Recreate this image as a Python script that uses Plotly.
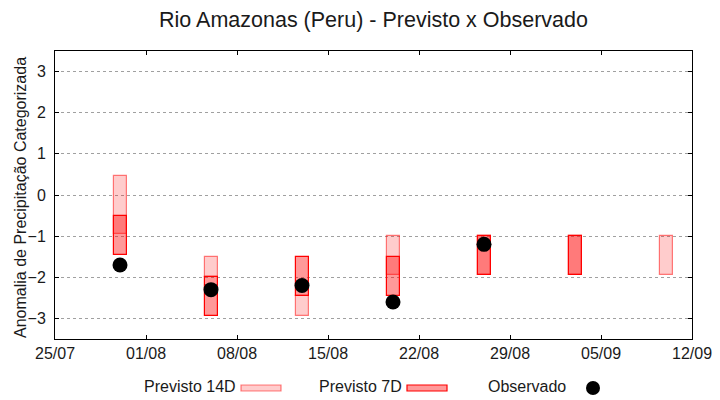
import plotly.graph_objects as go
import pandas as pd

# ---- data ----
dates = ["2023-07-30", "2023-08-06", "2023-08-13", "2023-08-20",
         "2023-08-27", "2023-09-03", "2023-09-10"]
p14_low = [-0.95, -2.0, -2.95, -1.95, -1.95, -1.95, -1.95]
p14_high = [0.45, -1.5, -2.45, -1.0, -1.0, -1.0, -1.0]
p7_dates = ["2023-07-30", "2023-08-06", "2023-08-13", "2023-08-20",
            "2023-08-27", "2023-09-03"]
p7_low = [-1.45, -2.95, -2.45, -2.45, -1.95, -1.95]
p7_high = [-0.5, -2.0, -1.5, -1.5, -1.0, -1.0]
obs_dates = ["2023-07-30", "2023-08-06", "2023-08-13", "2023-08-20", "2023-08-27"]
obs_vals = [-1.7, -2.3, -2.2, -2.6, -1.2]

x_range = ["2023-07-25", "2023-09-12"]
y_ticks = [-3, -2, -1, 0, 1, 2, 3]

DAY_MS = 86400000
FONT = "Liberation Sans, Arial, sans-serif"

c14_fill = "rgba(255,0,0,0.2)"
c14_line = "rgba(255,0,0,0.5)"
c7_fill = "rgba(255,0,0,0.4)"
c7_line = "rgb(255,0,0)"

fig = go.Figure()
fig.add_trace(go.Bar(
    x=pd.to_datetime(dates), base=p14_low,
    y=[h - l for h, l in zip(p14_high, p14_low)],
    width=DAY_MS, marker=dict(color=c14_fill, line=dict(color=c14_line, width=1.2)),
    name="Previsto 14D", showlegend=False))
fig.add_trace(go.Bar(
    x=pd.to_datetime(p7_dates), base=p7_low,
    y=[h - l for h, l in zip(p7_high, p7_low)],
    width=DAY_MS, marker=dict(color=c7_fill, line=dict(color=c7_line, width=1.2)),
    name="Previsto 7D", showlegend=False))
fig.add_trace(go.Scatter(
    x=pd.to_datetime(obs_dates), y=obs_vals, mode="markers",
    marker=dict(color="black", size=15), name="Observado", showlegend=False))

# ---- layout ----
L, R, T, B = 55, 28, 51, 61
W, H = 720, 400
pw, ph = W - L - R, H - T - B

def px(xp):
    return (xp - L) / pw

def py(yp):
    return (H - B - yp) / ph

fig.update_layout(
    width=W, height=H,
    margin=dict(l=L, r=R, t=T, b=B, autoexpand=False),
    paper_bgcolor="white", plot_bgcolor="white",
    barmode="overlay", bargap=0,
    font=dict(family=FONT, size=16, color="#1a1a1a"),
    title=dict(text="Rio Amazonas (Peru) - Previsto x Observado",
               x=(L + pw / 2) / W, xanchor="center", y=1 - 19 / H, yanchor="middle",
               font=dict(size=21.5, family=FONT, color="#1a1a1a")),
    xaxis=dict(range=x_range, type="date", tick0="2023-07-25", dtick=7 * DAY_MS,
               tickformat="%d/%m", ticks="inside", ticklen=4, tickcolor="black",
               showline=True, linecolor="black", linewidth=1, mirror="ticks",
               showgrid=False, zeroline=False, tickfont=dict(size=16),
               automargin=False),
    yaxis=dict(range=[-3.5, 3.5], tickvals=y_ticks, ticks="inside", ticklen=4,
               tickcolor="black", showline=True, linecolor="black", linewidth=1,
               mirror="ticks", showgrid=True, gridcolor="#a0a0a0", griddash="dot",
               gridwidth=1, zeroline=False, tickfont=dict(size=16),
               ticklabelstandoff=5, automargin=False),
)

# y-axis title placed as rotated text
fig.add_annotation(text="Anomalia de Precipitação Categorizada", xref="paper", yref="paper",
                   x=px(20), y=py(198), xanchor="center", yanchor="middle",
                   textangle=-90, showarrow=False,
                   font=dict(size=16, family=FONT, color="#1a1a1a"))

# ---- custom legend (gnuplot style: text then key) ----
leg_y = 386
items = [("Previsto 14D", 142), ("Previsto 7D", 317), ("Observado", 486)]
for txt, xl in items:
    fig.add_annotation(text=txt, xref="paper", yref="paper", x=px(xl), y=py(leg_y),
                       xanchor="left", yanchor="middle", showarrow=False,
                       font=dict(size=16, family=FONT, color="#1a1a1a"))
fig.add_shape(type="rect", xref="paper", yref="paper",
              x0=px(241), x1=px(281), y0=py(385), y1=py(391),
              fillcolor=c14_fill, line=dict(color=c14_line, width=1.2))
fig.add_shape(type="rect", xref="paper", yref="paper",
              x0=px(407), x1=px(447), y0=py(385), y1=py(391),
              fillcolor=c7_fill, line=dict(color=c7_line, width=1.2))
fig.add_shape(type="circle", xref="paper", yref="paper",
              xsizemode="pixel", ysizemode="pixel",
              xanchor=px(593), yanchor=py(388), x0=-7, x1=7, y0=-7, y1=7,
              fillcolor="black", line=dict(color="black", width=0))

fig.write_html("out.html", config={"displayModeBar": False},
               post_script="document.body.style.margin='0';")
